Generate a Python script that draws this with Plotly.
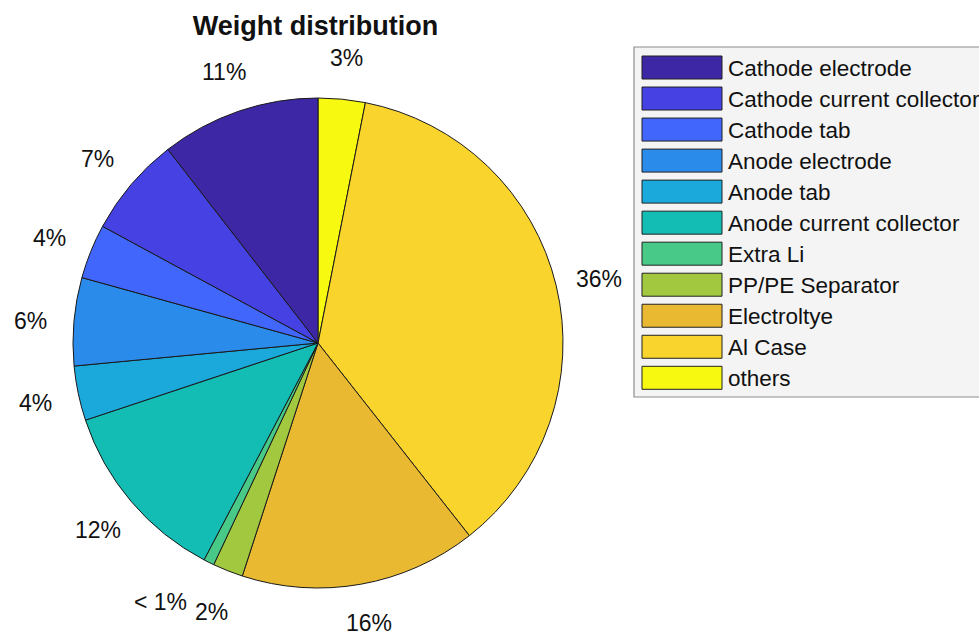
import math
import plotly.graph_objects as go

# Component weight shares (%) of the cell
components = [
    "Cathode electrode", "Cathode current collector", "Cathode tab",
    "Anode electrode", "Anode tab", "Anode current collector", "Extra Li",
    "PP/PE Separator", "Electroltye", "Al Case", "others",
]
weights = [10.5, 6.6, 3.6, 5.8, 3.6, 12.2, 0.7, 2.0, 15.6, 36.3, 3.1]
colors = [
    "#3D27A5", "#4541E2", "#4166FC", "#2B8BEB", "#1BA9DB", "#13BDB4",
    "#48C987", "#A2C83F", "#E9B931", "#F9D42D", "#F8F910",
]

W, H = 979, 638
CX, CY, R = 318, 343, 245          # pie centre and radius in pixels
FONT = "Arial, Liberation Sans, sans-serif"


def px(x, y):
    """Pixel position (from top-left) to paper coordinates."""
    return x / W, 1 - y / H


def pct_label(v):
    return "< 1%" if v < 1 else f"{int(v + 0.5)}%"


# Slices run counter-clockwise from 12 o'clock; feeding the series in
# reverse order with a clockwise sweep gives exactly that layout.
fig = go.Figure(go.Pie(
    labels=components[::-1],
    values=weights[::-1],
    sort=False,
    direction="clockwise",
    rotation=0,
    textinfo="none",
    hoverinfo="label+percent",
    marker=dict(colors=colors[::-1], line=dict(color="#1a1a1a", width=1)),
    domain=dict(x=[(CX - R) / W, (CX + R) / W],
                y=[(H - CY - R) / H, (H - CY + R) / H]),
    showlegend=False,
))

annotations = []
shapes = []

# Percentage labels around the pie, centred on each slice's mid-angle
total = sum(weights)
cum = 0.0
for v in weights:
    mid = (cum + v / 2) / total
    cum += v
    th = 2 * math.pi * mid
    rl = 1.18 * R
    lx = CX - rl * math.sin(th)
    ly = CY - rl * math.cos(th)
    if math.cos(th) > 0:
        ly += 3
    ly = min(ly, H - 15)           # keep the text box inside the page
    ax, ay = px(lx, ly)
    annotations.append(dict(
        x=ax, y=ay, xref="paper", yref="paper", showarrow=False,
        text=pct_label(v), xanchor="right" if v < 1 else "center",
        yanchor="middle", font=dict(family=FONT, size=23, color="#111111"),
    ))

# Legend box with wide colour swatches
bx0, by0 = px(634, 47)
bx1, by1 = px(990, 397)
shapes.append(dict(type="rect", xref="paper", yref="paper",
                   x0=bx0, y0=by1, x1=bx1, y1=by0,
                   fillcolor="#f4f4f4", line=dict(color="#8c8c8c", width=1.2),
                   layer="below"))
for i, (name, c) in enumerate(zip(components, colors)):
    top = 56 + i * 31.03
    sx0, sy0 = px(642, top)
    sx1, sy1 = px(722, top + 23)
    shapes.append(dict(type="rect", xref="paper", yref="paper",
                       x0=sx0, y0=sy1, x1=sx1, y1=sy0,
                       fillcolor=c, line=dict(color="#222222", width=1)))
    tx, ty = px(726, top + 12)
    annotations.append(dict(
        x=tx, y=ty, xref="paper", yref="paper", showarrow=False,
        text=name, xanchor="left", yanchor="middle",
        font=dict(family=FONT, size=22.5, color="#111111"),
    ))

tx, ty = px(315.5, 26)
fig.update_layout(
    width=W, height=H,
    margin=dict(l=0, r=0, t=0, b=0),
    paper_bgcolor="white", plot_bgcolor="white",
    title=dict(text="<b>Weight distribution</b>", x=tx, y=ty,
               xanchor="center", yanchor="middle",
               font=dict(family=FONT, size=27, color="#111111")),
    annotations=annotations,
    shapes=shapes,
)

fig.write_html("out.html")
